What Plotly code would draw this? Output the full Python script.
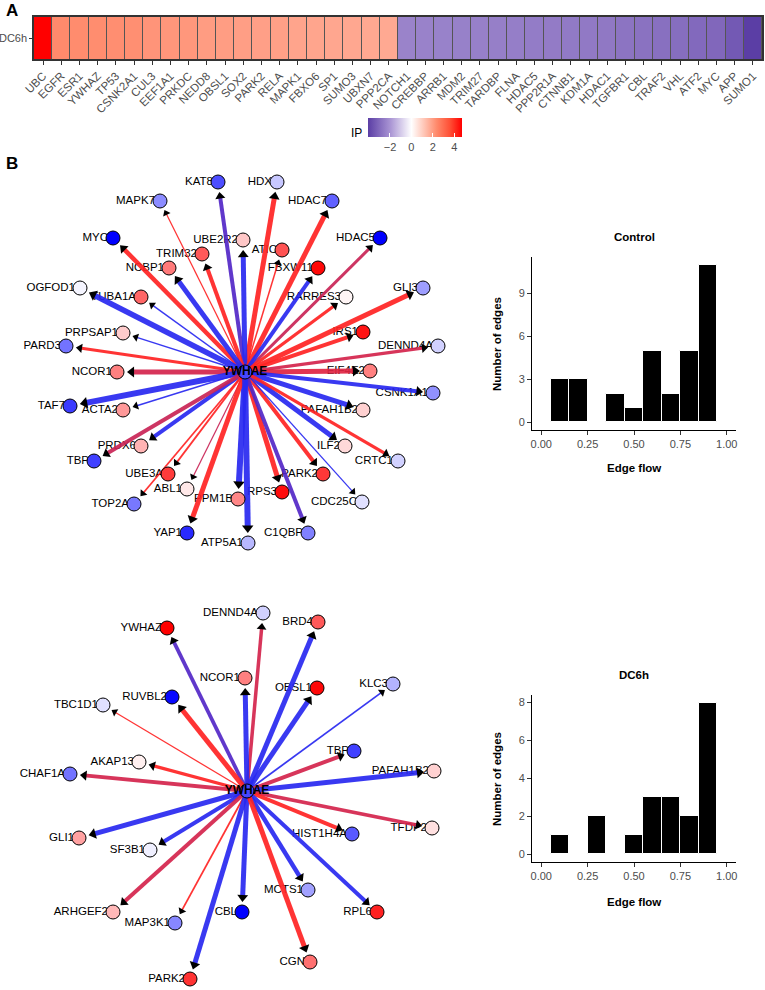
import math
import plotly.graph_objects as go

W, H = 765, 990
FONT = "Arial, Liberation Sans, Helvetica, sans-serif"
GREY = "#4D4D4D"

# ---------------- Panel A: IP heatmap ----------------
heat_row = ["DC6h"]
heat_genes = ["UBC", "EGFR", "ESR1", "YWHAZ", "TP53", "CSNK2A1", "CUL3", "EEF1A1", "PRKDC", "NEDD8",
              "OBSL1", "SOX2", "PARK2", "RELA", "MAPK1", "FBXO6", "SP1", "SUMO3", "UBXN7", "PPP2CA",
              "NOTCH1", "CREBBP", "ARRB1", "MDM2", "TRIM27", "TARDBP", "FLNA", "HDAC5", "PPP2R1A", "CTNNB1",
              "KDM1A", "HDAC1", "TGFBR1", "CBL", "TRAF2", "VHL", "ATF2", "MYC", "APP", "SUMO1"]
heat_ip = [4.72, 2.35, 2.32, 2.30, 2.28, 2.26, 2.15, 2.12, 2.10, 2.00,
           1.98, 1.95, 1.93, 1.92, 1.85, 1.83, 1.80, 1.78, 1.76, 1.75,
           -2.38, -2.40, -2.42, -2.44, -2.46, -2.48, -2.50, -2.55, -2.57, -2.60,
           -2.62, -2.65, -2.75, -2.80, -2.85, -2.90, -3.00, -3.05, -3.40, -4.05]
ip_ticks = [-2, 0, 2, 4]

# ---------------- Panel B: networks ----------------
hub_name = "YWHAE"
hub_ip = -0.72

ctrl_nodes = ["KAT8", "HDX", "MAPK7", "HDAC7", "MYC", "HDAC5", "UBE2R2", "TRIM32", "ATIC", "NCBP1",
              "FBXW11", "OGFOD1", "TUBA1A", "RARRES3", "GLI3", "PRPSAP1", "PARD3", "IRS1", "DENND4A", "NCOR1",
              "EIF4E2", "CSNK1A1", "TAF7", "ACTA2", "PAFAH1B2", "PRDX6", "ILF2", "TBP", "CRTC1", "UBE3A",
              "PARK2", "ABL1", "RPS3", "PPM1B", "TOP2A", "CDC25C", "YAP1", "C1QBP", "ATP5A1"]
ctrl_x = [-27, 32, -85, 87, -132, 135, -2, -43, 37, -76,
          73, -165, -104, 101, 178, -122, -179, 118, 193, -128,
          125, 188, -175, -122, 118, -104, 100, -151, 153, -77,
          78, -58, 37, -7, -111, 117, -58, 63, 3]
ctrl_y = [190, 190, 171, 171, 134, 134, 132, 118, 122, 104,
          104, 84, 75, 75, 84, 39, 26, 40, 26, 0,
          1, -21, -34, -38, -38, -74, -74, -89, -89, -102,
          -102, -117, -120, -127, -132, -130, -161, -161, -171]
ctrl_ip = [-0.70, -0.22, -0.45, -0.62, -1.0, -1.0, 0.22, 0.65, 0.68, 0.52,
           0.97, -0.04, 0.60, 0.04, -0.38, 0.20, -0.55, 0.92, -0.18, 0.50,
           0.50, -0.43, -0.77, 0.40, 0.18, 0.30, 0.15, -0.75, -0.18, 0.77,
           0.78, 0.09, 0.95, 0.47, -0.53, -0.12, -0.84, -0.50, -0.28]
ctrl_edge_flow = [0.6, 0.8, 0.05, 0.8, 0.7, 0.4, 0.8, 0.6, 0.1, 0.8,
                  0.6, 0.9, 0.1, 0.45, 0.8, 0.1, 0.4, 0.6, 0.45, 0.8,
                  0.8, 0.6, 1.0, 0.1, 0.8, 0.6, 0.8, 0.6, 0.45, 0.2,
                  0.6, 0.05, 0.8, 1.0, 0.15, 0.05, 0.8, 0.6, 1.0]
ctrl_edge_sign = [0.2, 1.0, 1.0, 1.0, 1.0, 0.75, 0.0, 1.0, 1.0, 0.0,
                  0.0, 0.0, 0.0, 1.0, 1.0, 0.0, 1.0, 1.0, 0.8, 0.8,
                  0.85, 0.0, 0.0, 0.0, 0.0, 0.0, 0.0, 0.75, 1.0, 1.0,
                  1.0, 0.75, 1.0, 0.0, 1.0, 0.0, 1.0, 0.2, 0.0]

dc6h_nodes = ["DENND4A", "YWHAZ", "BRD4", "NCOR1", "OBSL1", "KLC3", "RUVBL2", "TBC1D1", "TBP", "AKAP13",
              "CHAF1A", "PAFAH1B2", "TFDP2", "GLI1", "SF3B1", "HIST1H4A", "MCTS1", "ARHGEF2", "MAP3K1", "CBL",
              "RPL6", "CGN", "PARK2"]
dc6h_x = [16, -80, 71, -2, 70, 146, -75, -144, 107, -108,
          -177, 187, 185, -168, -97, 105, 61, -134, -72, -5,
          130, 63, -57]
dc6h_y = [178, 163, 169, 113, 103, 107, 94, 86, 40, 29,
          17, 20, -37, -47, -59, -43, -99, -121, -132, -121,
          -121, -171, -188]
dc6h_ip = [-0.18, 1.0, 0.65, 0.50, 0.97, -0.30, -0.97, -0.12, -0.75, 0.06,
           -0.55, 0.18, 0.12, 0.37, -0.06, -0.65, -0.37, 0.28, -0.47, -1.0,
           0.87, 0.56, 0.80]
dc6h_edge_flow = [0.5, 0.55, 0.8, 0.8, 0.8, 0.15, 0.8, 0.05, 0.6, 0.45,
                  0.6, 0.8, 0.5, 0.8, 0.6, 0.6, 0.7, 0.6, 0.15, 0.8,
                  0.6, 0.8, 0.8]
dc6h_edge_sign = [0.8, 0.2, 0.0, 0.0, 0.0, 0.0, 1.0, 1.0, 0.8, 1.0,
                  0.8, 0.0, 0.8, 0.0, 0.0, 1.0, 0.0, 0.8, 1.0, 0.0,
                  0.0, 1.0, 0.0]

# ---------------- Histograms ----------------
flow_bins = [0.1, 0.2, 0.3, 0.4, 0.5, 0.6, 0.7, 0.8, 0.9]
ctrl_counts = [3, 3, 0, 2, 1, 5, 2, 5, 11]
dc6h_counts = [1, 0, 2, 0, 1, 3, 3, 2, 8]
flow_ticks = [0, 0.25, 0.5, 0.75, 1.0]
flow_ticktext = ["0.00", "0.25", "0.50", "0.75", "1.00"]
ctrl_yticks = [0, 3, 6, 9]
dc6h_yticks = [0, 2, 4, 6, 8]


def px_x(p):
    return p / W


def px_y(p):
    return 1 - p / H


def edge_color(s, alpha=0.92):
    b = (40, 40, 240)
    r = (255, 35, 35)
    c = [round(b[i] + (r[i] - b[i]) * s) for i in range(3)]
    return f"rgba({c[0]},{c[1]},{c[2]},{alpha})"


NODE_SCALE = [[0, "#0000FF"], [0.5, "#FFFFFF"], [1, "#FF0000"]]
HEAT_SCALE = [[0, "#5B3EA5"], [0.234, "#A893D3"], [0.4618, "#FFFFFF"],
              [0.6, "#FFC4B4"], [0.73, "#FF8A6C"], [0.87, "#FF5036"], [1, "#FF0000"]]
LABEL_SHIFT = 5  # label text sits just left of its node

fig = go.Figure()

# heatmap
fig.add_trace(go.Heatmap(
    z=[heat_ip], x=heat_genes, y=heat_row, xgap=1,
    colorscale=HEAT_SCALE, zmin=-4.05, zmax=4.72, hoverinfo="skip",
    colorbar=dict(orientation="h", x=px_x(415), xanchor="center", y=px_y(118), yanchor="top",
                  len=94, lenmode="pixels", thickness=19, outlinewidth=0, xpad=0, ypad=0,
                  tickvals=ip_ticks, ticks="inside", ticklen=4, tickcolor="white",
                  tickfont=dict(size=11, color=GREY, family=FONT)),
    xaxis="x", yaxis="y"))


def add_network(nodes, xs, ys, ips, flows, signs, xa, ya):
    # labels first (edges drawn over them)
    fig.add_trace(go.Scatter(x=[x - LABEL_SHIFT for x in xs], y=ys, mode="text", text=nodes,
                             textposition="middle left",
                             textfont=dict(size=11.5, color="black", family=FONT),
                             hoverinfo="skip", showlegend=False, xaxis=xa, yaxis=ya))
    for n, x, y, f, s in zip(nodes, xs, ys, flows, signs):
        L = math.hypot(x, y)
        asz = 7 + 3 * f
        stop = 10 + asz / 2
        ex, ey = x * (L - stop) / L, y * (L - stop) / L
        fig.add_trace(go.Scatter(
            x=[0, ex], y=[0, ey], mode="lines+markers",
            line=dict(color=edge_color(s), width=1 + 5 * f),
            marker=dict(symbol="triangle-up", size=[0, asz], color="black", angleref="previous",
                        line=dict(width=0), opacity=1),
            hoverinfo="skip", showlegend=False, xaxis=xa, yaxis=ya))
    fig.add_trace(go.Scatter(x=xs, y=ys, mode="markers",
                             marker=dict(size=14, color=ips, colorscale=NODE_SCALE, cmin=-1, cmax=1,
                                         line=dict(color="black", width=1)),
                             hoverinfo="skip", showlegend=False, xaxis=xa, yaxis=ya))
    fig.add_trace(go.Scatter(x=[0], y=[0], mode="markers+text", text=[f"<b>{hub_name}</b>"],
                             textposition="middle center",
                             textfont=dict(size=12, color="black", family=FONT),
                             marker=dict(size=14, color=[hub_ip], colorscale=NODE_SCALE, cmin=-1, cmax=1,
                                         line=dict(color="black", width=1)),
                             hoverinfo="skip", showlegend=False, xaxis=xa, yaxis=ya))


add_network(ctrl_nodes, ctrl_x, ctrl_y, ctrl_ip, ctrl_edge_flow, ctrl_edge_sign, "x2", "y2")
add_network(dc6h_nodes, dc6h_x, dc6h_y, dc6h_ip, dc6h_edge_flow, dc6h_edge_sign, "x3", "y3")

fig.add_trace(go.Bar(x=flow_bins, y=ctrl_counts, width=0.1, marker=dict(color="black", line=dict(color="white", width=1)),
                     hoverinfo="skip", showlegend=False, xaxis="x4", yaxis="y4"))
fig.add_trace(go.Bar(x=flow_bins, y=dc6h_counts, width=0.1, marker=dict(color="black", line=dict(color="white", width=1)),
                     hoverinfo="skip", showlegend=False, xaxis="x5", yaxis="y5"))

hidden = dict(visible=False, showgrid=False, zeroline=False, fixedrange=True)
hist_axis = dict(showline=True, linecolor="black", linewidth=1, ticks="outside", ticklen=4, tickcolor="#333",
                 showgrid=False, zeroline=False, tickfont=dict(size=11, color=GREY, family=FONT))

fig.update_layout(
    width=W, height=H, margin=dict(l=0, r=0, t=0, b=0, autoexpand=False),
    paper_bgcolor="white", plot_bgcolor="white", showlegend=False, bargap=0,
    font=dict(family=FONT),
    xaxis=dict(domain=[px_x(34), px_x(762)], showline=True, mirror=True, linecolor="#333", linewidth=1.5,
               ticks="outside", ticklen=4, tickcolor="#333", tickangle=-45, showgrid=False,
               tickfont=dict(size=11.5, color=GREY, family=FONT), automargin=False),
    yaxis=dict(domain=[px_y(59), px_y(17)], showline=True, mirror=True, linecolor="#333", linewidth=1.5,
               ticks="outside", ticklen=3, tickcolor="#333", showgrid=False, automargin=False,
               tickfont=dict(size=11, color=GREY, family=FONT)),
    xaxis2=dict(domain=[0, px_x(480)], range=[-245, 235], anchor="y2", **hidden),
    yaxis2=dict(domain=[px_y(590), px_y(140)], range=[-218, 232], anchor="x2", **hidden),
    xaxis3=dict(domain=[0, px_x(480)], range=[-247, 233], anchor="y3", **hidden),
    yaxis3=dict(domain=[0, px_y(595)], range=[-199, 196], anchor="x3", **hidden),
    xaxis4=dict(domain=[px_x(532), px_x(736)], range=[-0.05, 1.05], anchor="y4",
                tickvals=flow_ticks, ticktext=flow_ticktext, **hist_axis),
    yaxis4=dict(domain=[px_y(430), px_y(257)], range=[-0.55, 11.55], anchor="x4",
                tickvals=ctrl_yticks, **hist_axis),
    xaxis5=dict(domain=[px_x(532), px_x(736)], range=[-0.05, 1.05], anchor="y5",
                tickvals=flow_ticks, ticktext=flow_ticktext, **hist_axis),
    yaxis5=dict(domain=[px_y(862), px_y(695)], range=[-0.4, 8.4], anchor="x5",
                tickvals=dc6h_yticks, **hist_axis),
)

# dark tile borders behind heatmap
fig.add_shape(type="rect", xref="x domain", yref="y domain", x0=0, x1=1, y0=0, y1=1,
              fillcolor="#555555", line=dict(width=0), layer="below")

ann = [
    dict(text="<b>A</b>", x=px_x(4), y=px_y(11), xanchor="left", yanchor="middle", font=dict(size=17)),
    dict(text="<b>B</b>", x=px_x(4), y=px_y(163), xanchor="left", yanchor="middle", font=dict(size=17)),
    dict(text="IP", x=px_x(364), y=px_y(133), xanchor="right", yanchor="middle", font=dict(size=12)),
    dict(text="<b>Control</b>", x=px_x(634), y=px_y(237), xanchor="center", yanchor="middle", font=dict(size=11.5)),
    dict(text="<b>DC6h</b>", x=px_x(634), y=px_y(675), xanchor="center", yanchor="middle", font=dict(size=11.5)),
    dict(text="<b>Edge flow</b>", x=px_x(634), y=px_y(468), xanchor="center", yanchor="middle", font=dict(size=11.5)),
    dict(text="<b>Edge flow</b>", x=px_x(634), y=px_y(902), xanchor="center", yanchor="middle", font=dict(size=11.5)),
    dict(text="<b>Number of edges</b>", x=px_x(497), y=px_y(344), textangle=-90, xanchor="center", yanchor="middle",
         font=dict(size=11.5)),
    dict(text="<b>Number of edges</b>", x=px_x(497), y=px_y(779), textangle=-90, xanchor="center", yanchor="middle",
         font=dict(size=11.5)),
]
for a in ann:
    a.update(xref="paper", yref="paper", showarrow=False)
    a["font"].update(family=FONT, color="black")
    fig.add_annotation(**a)

fig.write_html("out.html", config={"displayModeBar": False},
               post_script="document.body.style.margin='0';document.body.style.overflow='hidden';")
